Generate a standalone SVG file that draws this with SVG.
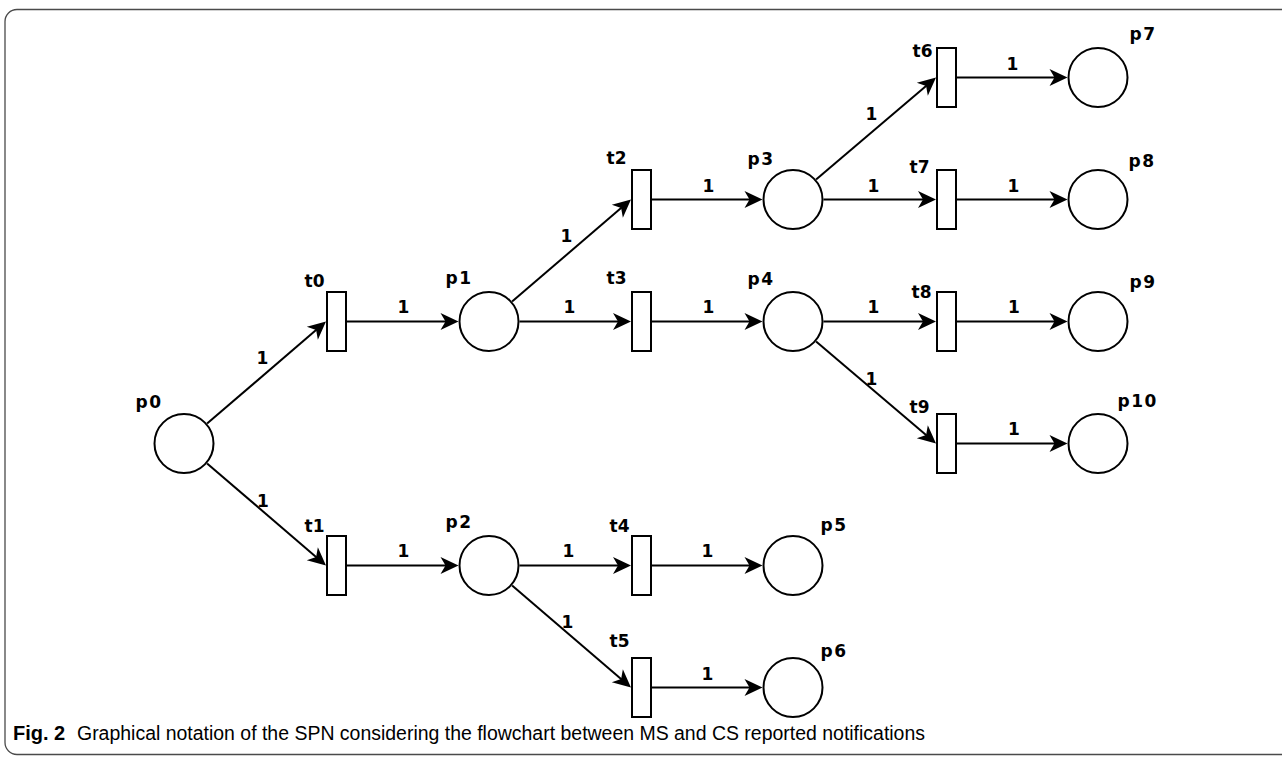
<svg xmlns="http://www.w3.org/2000/svg" width="1282" height="757" viewBox="0 0 1282 757">
  <style>
    .frame { fill: none; stroke: #4a4a4a; stroke-width: 1.3; }
    .place { fill: #ffffff; stroke: #000000; stroke-width: 2; }
    .trans { fill: #ffffff; stroke: #000000; stroke-width: 2; }
    .arc { fill: none; stroke: #000000; stroke-width: 2; marker-end: url(#head); }
    .lbl { font-family: "DejaVu Sans", Verdana, sans-serif; font-weight: bold; font-size: 17px; fill: #000000; }
    .plbl { letter-spacing: 1.5px; }
    .w { text-anchor: middle; }
    .cap { font-family: "Liberation Sans", Arial, sans-serif; font-size: 20px; fill: #000000; }
  </style>
  <defs>
    <!-- barbed arrowhead; tip sits 10px beyond the end of each arc -->
    <marker id="head" markerUnits="userSpaceOnUse" markerWidth="30" markerHeight="30" refX="0" refY="0" viewBox="-15 -15 30 30" orient="auto" overflow="visible">
      <path d="M10,0 L-8,-8.5 L-3,0 L-8,8.5 Z" fill="#000000"/>
    </marker>
  </defs>

  <rect class="frame" x="5" y="9.5" width="1300" height="745" rx="12" ry="12"/>

  <!-- arcs -->
  <g id="arcs">
    <line class="arc" x1="207.1" y1="423.6" x2="318.4" y2="328.0"/>
    <line class="arc" x1="207.1" y1="463.4" x2="318.4" y2="559.0"/>
    <line class="arc" x1="347" y1="321.5" x2="448.5" y2="321.5"/>
    <line class="arc" x1="347" y1="565.5" x2="448.5" y2="565.5"/>
    <line class="arc" x1="512.1" y1="301.6" x2="623.4" y2="206.0"/>
    <line class="arc" x1="519.5" y1="321.5" x2="621" y2="321.5"/>
    <line class="arc" x1="519.5" y1="565.5" x2="621" y2="565.5"/>
    <line class="arc" x1="512.1" y1="585.4" x2="623.4" y2="681.0"/>
    <line class="arc" x1="652" y1="199.5" x2="752.5" y2="199.5"/>
    <line class="arc" x1="652" y1="321.5" x2="752.5" y2="321.5"/>
    <line class="arc" x1="652" y1="565.5" x2="752.5" y2="565.5"/>
    <line class="arc" x1="652" y1="687.5" x2="752.5" y2="687.5"/>
    <line class="arc" x1="816.1" y1="179.6" x2="928.4" y2="84.0"/>
    <line class="arc" x1="823.5" y1="199.5" x2="926" y2="199.5"/>
    <line class="arc" x1="823.5" y1="321.5" x2="926" y2="321.5"/>
    <line class="arc" x1="816.1" y1="341.4" x2="928.4" y2="437.0"/>
    <line class="arc" x1="957" y1="77.5" x2="1057.5" y2="77.5"/>
    <line class="arc" x1="957" y1="199.5" x2="1057.5" y2="199.5"/>
    <line class="arc" x1="957" y1="321.5" x2="1057.5" y2="321.5"/>
    <line class="arc" x1="957" y1="443.5" x2="1057.5" y2="443.5"/>
  </g>

  <!-- arc weights -->
  <g id="weights" class="lbl w">
    <text x="262.5" y="364">1</text>
    <text x="263" y="507">1</text>
    <text x="403.5" y="313">1</text>
    <text x="403.5" y="557">1</text>
    <text x="566.5" y="242">1</text>
    <text x="569.5" y="313">1</text>
    <text x="568.5" y="557">1</text>
    <text x="567.5" y="628">1</text>
    <text x="708.5" y="192">1</text>
    <text x="708.5" y="313">1</text>
    <text x="707.5" y="557">1</text>
    <text x="707.5" y="680">1</text>
    <text x="871.5" y="120">1</text>
    <text x="873.5" y="192">1</text>
    <text x="873.5" y="313">1</text>
    <text x="871.5" y="385">1</text>
    <text x="1012.5" y="70">1</text>
    <text x="1013.5" y="192">1</text>
    <text x="1014" y="313">1</text>
    <text x="1014" y="435">1</text>
  </g>

  <!-- places -->
  <g id="p0"><circle class="place" cx="184" cy="443.5" r="29.5"/><text class="lbl plbl" x="135.5" y="408">p0</text></g>
  <g id="p1"><circle class="place" cx="489" cy="321.5" r="29.5"/><text class="lbl plbl" x="445.5" y="284">p1</text></g>
  <g id="p2"><circle class="place" cx="489" cy="565.5" r="29.5"/><text class="lbl plbl" x="445.5" y="528">p2</text></g>
  <g id="p3"><circle class="place" cx="793" cy="199.5" r="29.5"/><text class="lbl plbl" x="747.5" y="165">p3</text></g>
  <g id="p4"><circle class="place" cx="793" cy="321.5" r="29.5"/><text class="lbl plbl" x="747.5" y="285">p4</text></g>
  <g id="p5"><circle class="place" cx="793" cy="565.5" r="29.5"/><text class="lbl plbl" x="820.5" y="531">p5</text></g>
  <g id="p6"><circle class="place" cx="793" cy="687.5" r="29.5"/><text class="lbl plbl" x="820.5" y="657">p6</text></g>
  <g id="p7"><circle class="place" cx="1098" cy="77.5" r="29.5"/><text class="lbl plbl" x="1129.5" y="40">p7</text></g>
  <g id="p8"><circle class="place" cx="1098" cy="199.5" r="29.5"/><text class="lbl plbl" x="1128.5" y="167">p8</text></g>
  <g id="p9"><circle class="place" cx="1098" cy="321.5" r="29.5"/><text class="lbl plbl" x="1129.5" y="288">p9</text></g>
  <g id="p10"><circle class="place" cx="1098" cy="443.5" r="29.5"/><text class="lbl plbl" x="1117.5" y="407">p10</text></g>

  <!-- transitions -->
  <g id="t0"><rect class="trans" x="327" y="292" width="19" height="59"/><text class="lbl" x="304.5" y="287">t0</text></g>
  <g id="t1"><rect class="trans" x="327" y="536" width="19" height="59"/><text class="lbl" x="304.5" y="532">t1</text></g>
  <g id="t2"><rect class="trans" x="632" y="170" width="19" height="59"/><text class="lbl" x="606.5" y="164">t2</text></g>
  <g id="t3"><rect class="trans" x="632" y="292" width="19" height="59"/><text class="lbl" x="606.5" y="284">t3</text></g>
  <g id="t4"><rect class="trans" x="632" y="536" width="19" height="59"/><text class="lbl" x="609.5" y="532">t4</text></g>
  <g id="t5"><rect class="trans" x="632" y="658" width="19" height="59"/><text class="lbl" x="609.5" y="647">t5</text></g>
  <g id="t6"><rect class="trans" x="937" y="48" width="19" height="59"/><text class="lbl" x="912.5" y="57">t6</text></g>
  <g id="t7"><rect class="trans" x="937" y="170" width="19" height="59"/><text class="lbl" x="909.5" y="173">t7</text></g>
  <g id="t8"><rect class="trans" x="937" y="292" width="19" height="59"/><text class="lbl" x="911.5" y="298">t8</text></g>
  <g id="t9"><rect class="trans" x="937" y="414" width="19" height="59"/><text class="lbl" x="909.5" y="413">t9</text></g>

  <!-- caption -->
  <text class="cap" x="13" y="740" font-weight="bold">Fig. 2</text>
  <text class="cap" x="77" y="740" textLength="848" lengthAdjust="spacingAndGlyphs">Graphical notation of the SPN considering the flowchart between MS and CS reported notifications</text>
</svg>
